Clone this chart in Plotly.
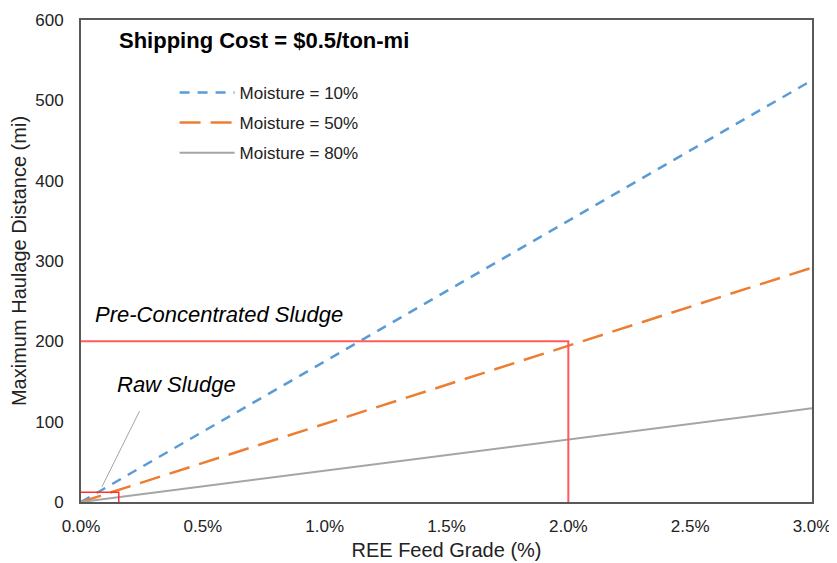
import plotly.graph_objects as go

grade = [0.0, 0.005, 0.01, 0.015, 0.02, 0.025, 0.03]
dist_m10 = [0, 87.5, 175, 262.5, 350, 437.5, 525]
dist_m50 = [0, 48.6, 97.2, 145.8, 194.4, 243.1, 291.7]
dist_m80 = [0, 19.4, 38.9, 58.3, 77.8, 97.2, 116.7]
series_names = ["Moisture = 10%", "Moisture = 50%", "Moisture = 80%"]

pre_grade = [0.0, 0.02, 0.02]
pre_dist = [200, 200, 0]
raw_grade = [0.0, 0.00155, 0.00155]
raw_dist = [12, 12, 0]
pointer_grade = [0.0024, 0.00086]
pointer_dist = [113, 19]

FONT = "Liberation Sans, Arial, sans-serif"
fig = go.Figure()
fig.add_trace(go.Scatter(x=grade, y=dist_m10, mode="lines", name=series_names[0], legendgroup="a",
                         line=dict(color="#5B9BD5", width=2.5, dash="10px,8px")))
fig.add_trace(go.Scatter(x=grade, y=dist_m50, mode="lines", name=series_names[1], legendgroup="b",
                         line=dict(color="#ED7D31", width=2.5, dash="21px,10px")))
fig.add_trace(go.Scatter(x=grade, y=dist_m80, mode="lines", name=series_names[2], legendgroup="c",
                         line=dict(color="#A5A5A5", width=2)))
fig.add_trace(go.Scatter(x=pre_grade, y=pre_dist, mode="lines", showlegend=False,
                         line=dict(color="#FF5B5B", width=2)))
fig.add_trace(go.Scatter(x=raw_grade, y=raw_dist, mode="lines", showlegend=False,
                         line=dict(color="#FF3030", width=1.5)))
fig.add_trace(go.Scatter(x=pointer_grade, y=pointer_dist, mode="lines", showlegend=False,
                         line=dict(color="#A5A5A5", width=1)))

fig.add_annotation(x=0.00147, y=574, xref="x", yref="y", text="<b>Shipping Cost = $0.5/ton-mi</b>",
                   showarrow=False, xanchor="left", font=dict(family=FONT, size=22, color="#000"))
fig.add_annotation(x=0.0005, y=233, xref="x", yref="y", text="<i>Pre-Concentrated Sludge</i>",
                   showarrow=False, xanchor="left", font=dict(family=FONT, size=22, color="#000"))
fig.add_annotation(x=0.0014, y=146, xref="x", yref="y", text="<i>Raw Sludge</i>",
                   showarrow=False, xanchor="left", font=dict(family=FONT, size=22, color="#000"))

fig.update_layout(
    width=829, height=555,
    margin=dict(l=73, r=25, t=12, b=61),
    paper_bgcolor="white", plot_bgcolor="white",
    font=dict(family=FONT, size=17, color="#222"),
    showlegend=True,
    legend=dict(x=0.128, y=0.886, xanchor="left", yanchor="top", bgcolor="rgba(0,0,0,0)",
                font=dict(family=FONT, size=17, color="#222"), itemwidth=55, tracegroupgap=5),
    xaxis=dict(range=[0, 0.03], tickvals=grade, tickformat=".1%", showgrid=False, zeroline=False,
               showline=True, linecolor="#595959", linewidth=2, mirror=True, automargin=False,
               ticks="outside", ticklen=8, tickcolor="rgba(0,0,0,0)", ticklabeloverflow="allow",
               title=dict(text="REE Feed Grade (%)", standoff=8)),
    yaxis=dict(range=[0, 600], dtick=100, showgrid=False, zeroline=False,
               showline=True, linecolor="#595959", linewidth=2, mirror=True, automargin=False,
               ticks="outside", ticklen=12, tickcolor="rgba(0,0,0,0)",
               title=dict(text="Maximum Haulage Distance (mi)", standoff=6)),
)
fig.write_html("out.html")
